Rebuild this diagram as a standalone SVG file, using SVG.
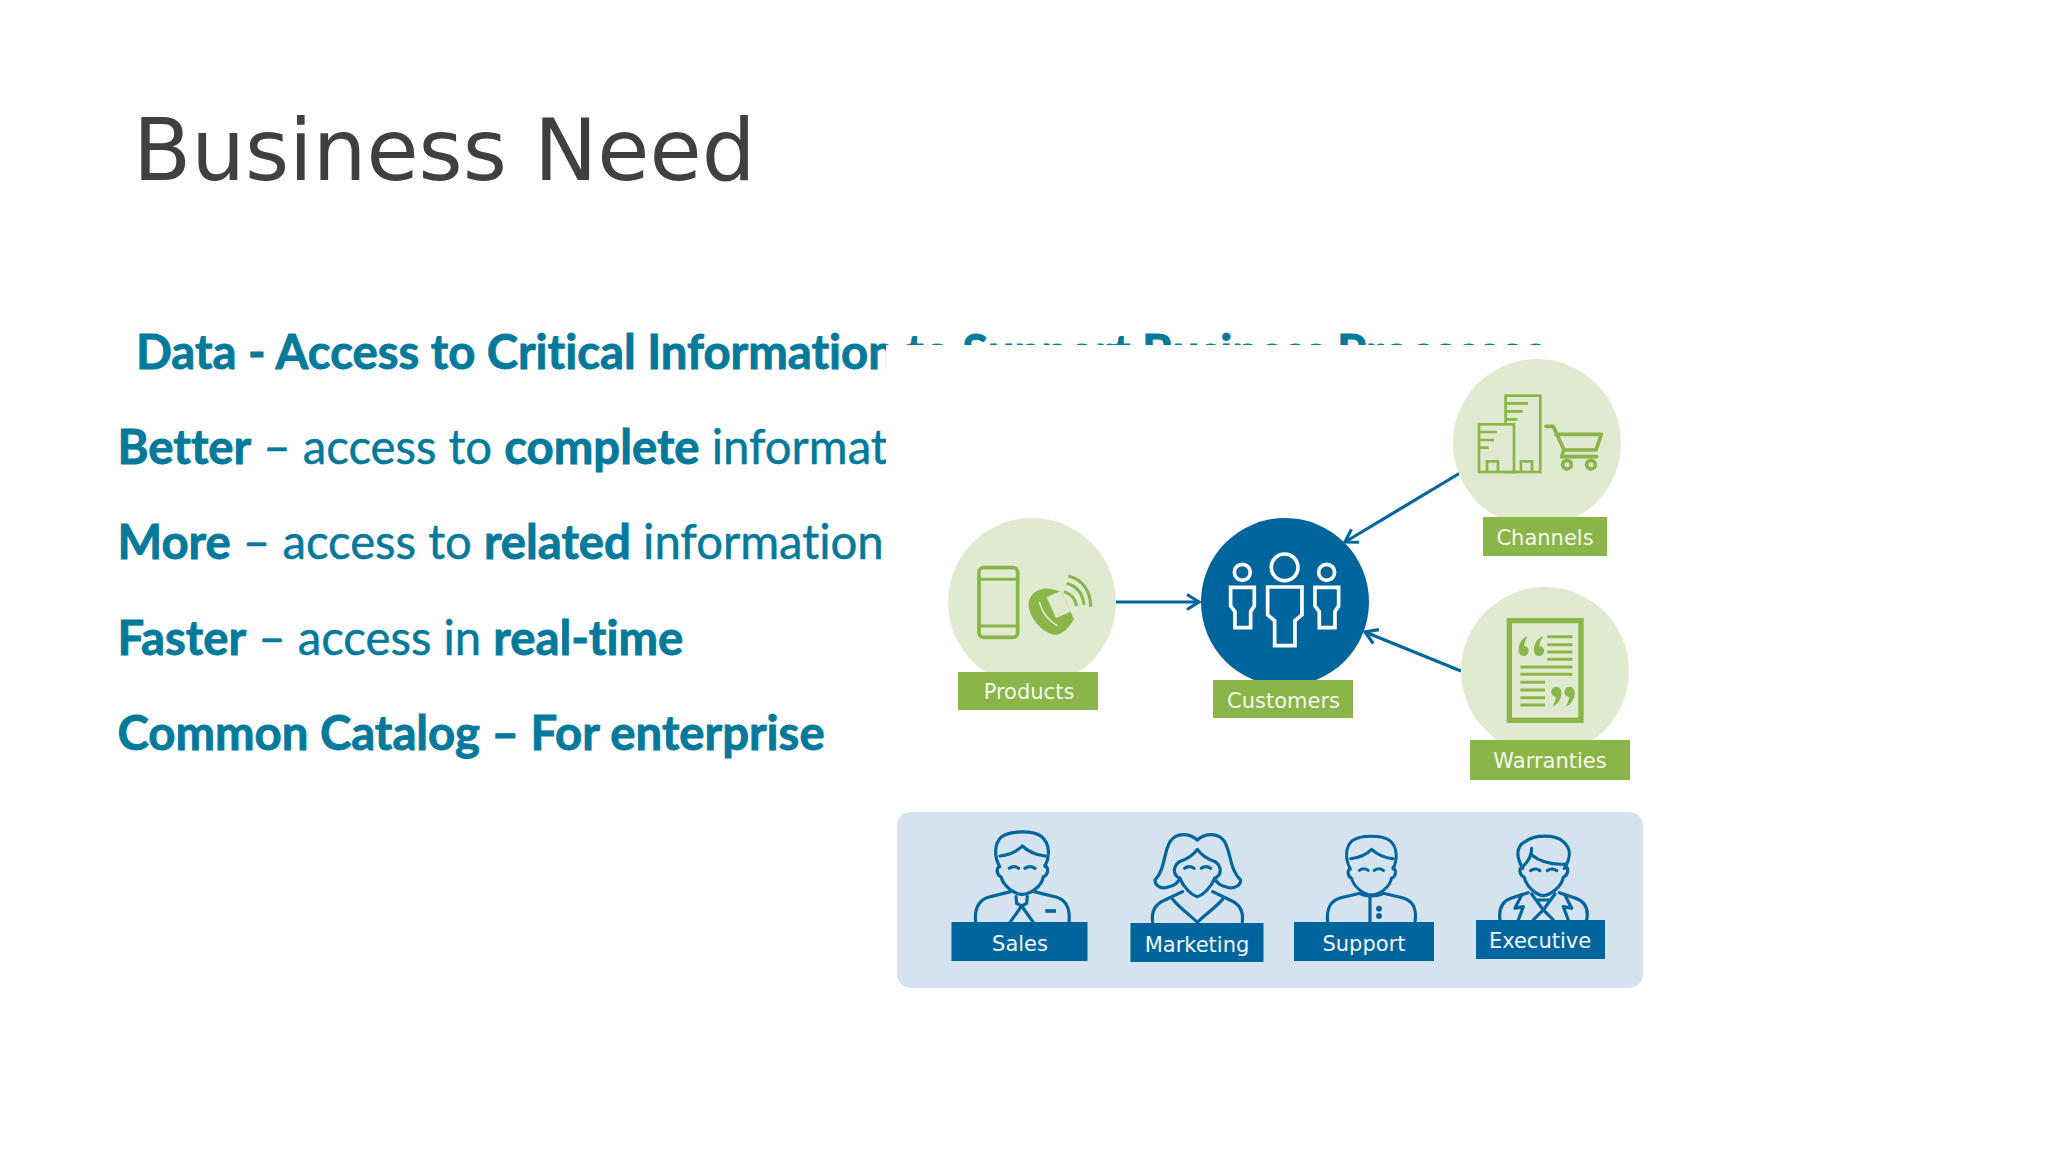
<svg xmlns="http://www.w3.org/2000/svg" xmlns:xlink="http://www.w3.org/1999/xlink" width="2048" height="1152" viewBox="0 0 2048 1152">
<defs>
<style>
.title{font-family:"DejaVu Sans",sans-serif;font-size:84.8px;fill:#404040}
.body{font-family:Lato,"Open Sans",sans-serif;font-size:48px;fill:#037a9b;stroke:#037a9b;stroke-width:.5;font-variant-ligatures:none}
.body .b,.bb{font-weight:700;stroke-width:.9}
.lab{font-family:"DejaVu Sans",sans-serif;font-size:21px;fill:#f4f8ee;text-anchor:middle}
.lab2{font-family:"DejaVu Sans",sans-serif;font-size:21px;fill:#f2f7fb;text-anchor:middle}
.gc{fill:#e0ead0}.gr{fill:#8ab548}.br{fill:#00659d}
.conn{fill:none;stroke:#00659d;stroke-width:3.2}
.gt{fill:none;stroke:#8ab548;stroke-width:8}
.wl{fill:none;stroke:#fff;stroke-width:11}
.pl{fill:none;stroke:#00659d;stroke-width:9.5;stroke-linecap:round;stroke-linejoin:round}
</style>
<marker id="chev" markerUnits="userSpaceOnUse" markerWidth="20" markerHeight="20" refX="14" refY="10" orient="auto"><path d="M2 2.5L14 10L2 17.5" fill="none" stroke="#00659d" stroke-width="3.2"/></marker>
<g id="head">
<path d="M-68 108C-85 78 -85 38 -62 18C-37 0 33 -2 58 18C83 38 83 78 68 108"/>
<path d="M-67 76C-42 73 -17 63 0 46C18 63 43 73 68 76"/>
<path d="M-69 108C-79 113 -77 133 -64 138C-57 168 -22 191 0 191C23 191 58 168 63 138C78 133 80 113 68 103"/>
<path d="M-39 113Q-25 103 -11 113M8 113Q23 103 38 113"/>
</g>
</defs>
<rect width="2048" height="1152" fill="#fff"/>
<text class="title" x="133" y="180">Business Need</text>
<g id="bullets">
<text class="body bb" transform="translate(136 369) scale(.985 1)">Data - Access to Critical Information to Support Business Processes</text>
<text class="body" transform="translate(117.5 464) scale(.985 1)"><tspan class="b">Better</tspan> – access to <tspan class="b">complete</tspan> information</text>
<text class="body" transform="translate(117.5 559) scale(.985 1)"><tspan class="b">More</tspan> – access to <tspan class="b">related</tspan> information</text>
<text class="body" transform="translate(117.5 655) scale(.985 1)"><tspan class="b">Faster</tspan> – access in <tspan class="b">real-time</tspan></text>
<text class="body bb" transform="translate(117.5 750) scale(.985 1)">Common Catalog – For enterprise</text>
</g>
<rect id="picture-bg" x="886" y="345" width="800" height="660" fill="#fff"/>
<g id="connectors">
<line class="conn" x1="1116" y1="602" x2="1199" y2="602" marker-end="url(#chev)"/>
<line class="conn" x1="1460" y1="473" x2="1345" y2="542" marker-end="url(#chev)"/>
<line class="conn" x1="1461" y1="671" x2="1365" y2="632" marker-end="url(#chev)"/>
</g>
<g id="products">
<circle class="gc" cx="1032" cy="602" r="84"/>
<g transform="translate(920 340) scale(.3333)">
<rect class="gt" x="177" y="683" width="116" height="209" rx="14" style="stroke-width:11"/>
<path d="M175 718H295M175 858H295" class="gt" style="stroke-width:9"/>
<path d="M186 692H214V706H186ZM256 692H284V706H256ZM186 870H222V884H186ZM248 870H284V884H248Z" fill="#e0ead0"/>
<path class="gr" d="M326 790C328 760 362 738 395 748L425 755L462 838C440 875 415 890 395 883C360 870 325 830 326 790Z"/>
<path d="M380 772L424 752L452 815L408 834Z" fill="#e0ead0"/>
<path d="M358 786C366 815 385 842 412 857" fill="none" stroke="#e0ead0" stroke-width="5"/>
<path d="M432 755C450 760 465 775 470 798M440 730C468 738 488 760 492 795M445 708C485 718 512 750 512 800" fill="none" stroke="#8ab548" stroke-width="9"/>
</g>
<rect class="gr" x="958" y="672" width="140" height="38"/>
<text class="lab" x="1029" y="699">Products</text>
</g>
<g id="customers">
<circle class="br" cx="1285" cy="602" r="84"/>
<g transform="translate(920 340) scale(.3333)">
<circle class="wl" cx="1094" cy="682" r="40"/>
<path class="wl" d="M1043 741H1146V825L1125 842V917H1064V842L1043 825Z"/>
<circle class="wl" cx="967" cy="697" r="24"/>
<path class="wl" d="M932 742H1003V798L992 815V863H945V815L932 798Z"/>
<circle class="wl" cx="1220" cy="697" r="24"/>
<path class="wl" d="M1185 742H1256V798L1245 815V863H1198V815L1185 798Z"/>
</g>
<rect class="gr" x="1213" y="680" width="140" height="38"/>
<text class="lab" x="1283.5" y="708">Customers</text>
</g>
<g id="channels">
<circle class="gc" cx="1537" cy="443" r="84"/>
<g transform="translate(1380 340) scale(.3333)">
<rect class="gt" x="377" y="167" width="104" height="229"/>
<rect class="gt" x="297" y="253" width="105" height="143" style="fill:#e0ead0"/>
<path class="gt" d="M380 190H444M380 214H428M380 238H412M300 276H350M300 300H342M300 323H326"/>
<path class="gt" d="M321 396V364H354V396M423 396V364H456V396"/>
<path d="M498 259H520L552 330H648L664 283H528M552 330L545 350H650" fill="none" stroke="#8ab548" stroke-width="11" stroke-linecap="round" stroke-linejoin="round"/>
<circle cx="561" cy="374" r="13" fill="#e0ead0" stroke="#8ab548" stroke-width="11"/>
<circle cx="633" cy="374" r="13" fill="#e0ead0" stroke="#8ab548" stroke-width="11"/>
</g>
<rect class="gr" x="1483" y="517" width="124" height="39"/>
<text class="lab" x="1545" y="544.500">Channels</text>
</g>
<g id="warranties">
<circle class="gc" cx="1545" cy="671" r="84"/>
<g transform="translate(1380 570) scale(.3333)">
<rect x="388" y="152" width="215" height="299" fill="none" stroke="#8ab548" stroke-width="16"/>
<path class="gt" style="stroke-width:9" d="M502 200H577M502 224H577M502 246H577M502 268H577M421 291H577M421 313H577M421 337H495M421 360H495M421 383H495M421 405H495"/>
<path class="gr" d="M444 198C424 205 414 225 416 245C420 262 442 262 446 246C448 235 440 228 432 228C434 215 438 206 444 198ZM490 198C470 205 460 225 462 245C466 262 488 262 492 246C494 235 486 228 478 228C480 215 484 206 490 198Z"/>
<path class="gr" d="M516 410C536 403 546 383 544 363C540 346 518 346 514 362C512 373 520 380 528 380C526 393 522 402 516 410ZM556 410C576 403 586 383 584 363C580 346 558 346 554 362C552 373 560 380 568 380C566 393 562 402 556 410Z"/>
</g>
<rect class="gr" x="1470" y="740" width="160" height="40"/>
<text class="lab" x="1550" y="768">Warranties</text>
</g>
<g id="panel"><rect x="897" y="812" width="746" height="176" rx="14" fill="#d4e3ee"/></g>
<g id="sales">
<g transform="translate(890 800) scale(.3333)">
<use xlink:href="#head" href="#head" class="pl" transform="translate(397 92)"/>
<g class="pl">
<path d="M257 367C252 320 270 300 295 292L362 275M432 275L500 292C525 300 542 320 537 367"/>
<path d="M378 290L380 310L395 318L410 310L412 290M395 318L360 367M395 318L430 367"/>
<path d="M466 333H498" style="stroke-width:11;stroke-linecap:butt"/>
</g></g>
<rect class="br" x="951.5" y="922" width="136" height="39"/>
<text class="lab2" x="1020" y="951">Sales</text>
</g>
<g id="marketing">
<g transform="translate(890 800) scale(.3333)"><g class="pl">
<path d="M922 120C900 100 860 95 840 125C820 160 825 210 795 240C795 258 815 268 832 262C850 258 865 248 870 235M922 120C944 100 984 95 1004 125C1024 160 1019 210 1052 240C1052 258 1030 268 1012 262C994 258 979 248 974 235"/>
<path d="M868 185C890 178 910 165 922 148C934 165 954 178 976 185"/>
<path d="M868 185C848 200 848 225 870 235C880 262 905 285 922 290C939 285 964 262 974 235C996 225 996 200 976 185"/>
<path d="M884 205Q898 195 912 205M934 205Q948 195 962 205"/>
<path d="M788 367C783 330 800 310 825 300L878 275M968 275L1020 300C1045 310 1062 330 1057 367"/>
<path d="M848 298C870 325 900 345 922 367C944 345 974 325 998 298"/>
</g></g>
<rect class="br" x="1130.5" y="923" width="133" height="39"/>
<text class="lab2" x="1197" y="952">Marketing</text>
</g>
<g id="support">
<g transform="translate(1280 800) scale(.3333)">
<use xlink:href="#head" href="#head" class="pl" transform="translate(275 105) scale(.94 .94)"/>
<g class="pl">
<path d="M143 367C138 320 155 302 180 294L240 280C255 290 290 290 310 280L370 294C395 302 412 320 405 367"/>
<path d="M270 290V367"/>
<circle cx="297" cy="326" r="4" fill="#00659d"/><circle cx="297" cy="348" r="4" fill="#00659d"/>
</g></g>
<rect class="br" x="1294" y="922" width="140" height="39"/>
<text class="lab2" x="1364" y="951">Support</text>
</g>
<g id="executive">
<g transform="translate(1280 800) scale(.3333)"><g class="pl">
<path d="M728 205C708 170 708 140 735 125C765 103 825 103 850 125C875 145 872 175 853 205"/>
<path d="M755 145C755 165 745 185 728 200M755 165C780 185 820 195 860 192"/>
<path d="M728 200C715 205 718 225 733 232C740 262 770 285 790 287C810 285 845 262 850 232C865 225 868 205 855 195"/>
<path d="M752 212Q766 202 780 212M802 212Q816 202 830 212"/>
<path d="M660 360C655 320 670 302 695 294L745 278M838 278L885 294C910 302 928 320 920 360"/>
<path d="M725 285L705 325L730 320L715 360M855 285L875 325L850 320L865 360"/>
<path d="M755 282L790 330L825 282M790 330L760 360M790 330L820 360M768 300H812"/>
</g></g>
<rect class="br" x="1476" y="920" width="129" height="39"/>
<text class="lab2" x="1540" y="948">Executive</text>
</g>
</svg>
